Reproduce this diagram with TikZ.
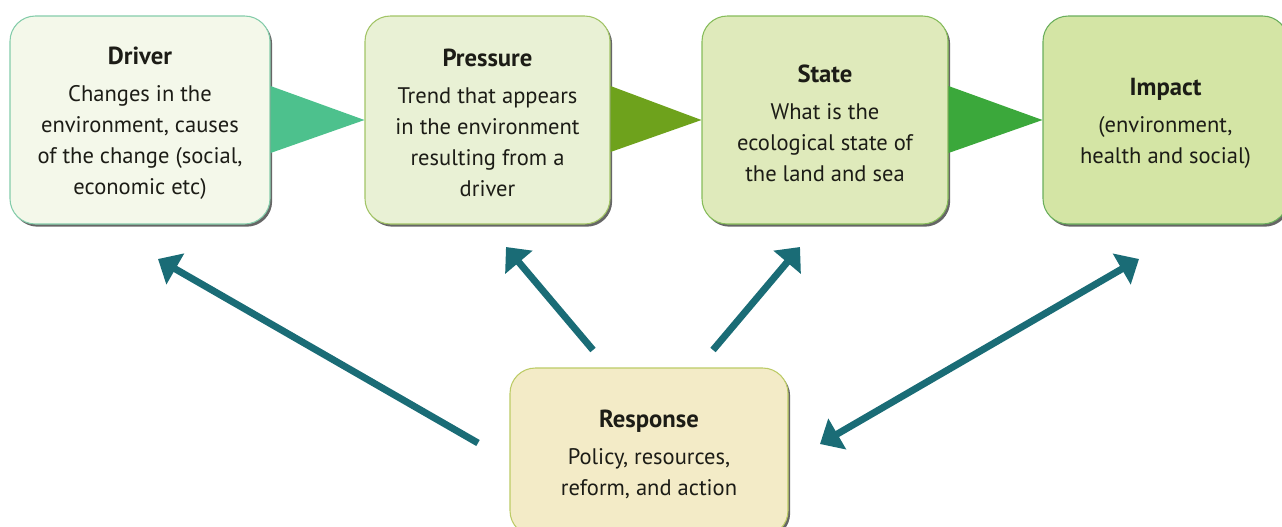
\documentclass[tikz,border=0pt]{standalone}
\usepackage{fontspec}
\setmainfont{PT Sans}
\usetikzlibrary{arrows.meta,shadows,calc}
\definecolor{drvfill}{HTML}{F4F8EA}
\definecolor{prsfill}{HTML}{E9F1D5}
\definecolor{stafill}{HTML}{DFEABB}
\definecolor{impfill}{HTML}{D4E5A5}
\definecolor{rspfill}{HTML}{F3EBC7}
\definecolor{drvline}{HTML}{84CCAA}
\definecolor{prsline}{HTML}{A2C466}
\definecolor{staline}{HTML}{86BC5A}
\definecolor{impline}{HTML}{6AAE5C}
\definecolor{rspline}{HTML}{BCCB66}
\definecolor{wedgeA}{HTML}{4DC18D}
\definecolor{wedgeB}{HTML}{6EA21C}
\definecolor{wedgeC}{HTML}{3BA83B}
\definecolor{arrteal}{HTML}{1A6C76}
\definecolor{txt}{HTML}{1C1C16}
\newcommand{\stagetitle}[1]{{\fontsize{18.5}{23.25}\selectfont\bfseries\rule{0pt}{17.5pt}#1}}
\begin{document}
\begin{tikzpicture}[line cap=round,line join=round,x=0.75pt,y=-0.75pt,
    box/.style={draw=#1,line width=0.8pt,rounded corners=19pt,align=center,text=txt,
        inner sep=0pt,font=\fontsize{16.9}{23.25}\selectfont,
        drop shadow={shadow xshift=1.6pt,shadow yshift=-2pt,fill=black!80,opacity=0.75}},
    wedge/.style={draw=none},
    reply/.style={line width=5.2pt,color=arrteal,line cap=butt,
        -{Triangle[width=26pt,length=15pt]}},
    replyboth/.style={reply,{Triangle[width=26pt,length=15pt]}-{Triangle[width=26pt,length=15pt]}}]
    \useasboundingbox (0,0) rectangle (1282,526);
    % the four stages
    \node[box=drvline,fill=drvfill,minimum width=195pt,minimum height=156pt] (driver) at (140,120)
        {\stagetitle{Driver}\\[4.5pt]Changes in the\\environment, causes\\of the change (social,\\economic etc)};
    \node[box=prsline,fill=prsfill,minimum width=183.75pt,minimum height=156pt] (pressure) at (487.5,120)
        {\stagetitle{Pressure}\\[4.5pt]Trend that appears\\in the environment\\resulting from a\\driver};
    \node[box=staline,fill=stafill,minimum width=184.5pt,minimum height=156pt] (state) at (825,120)
        {\stagetitle{State}\\[4.5pt]What is the\\ecological state of\\the land and sea};
    \node[box=impline,fill=impfill,minimum width=183.75pt,minimum height=156pt] (impact) at (1165.5,120)
        {\stagetitle{Impact}\\[4.5pt](environment,\\health and social)};
    \node[box=rspline,fill=rspfill,minimum width=208.5pt,minimum height=126pt] (response) at (649,452)
        {\stagetitle{Response}\\[4.5pt]Policy, resources,\\reform, and action};
    % wedges between the stages
    \fill[wedgeA] ($(driver.east)+(0,-34)$) -- (pressure.west) -- ($(driver.east)+(0,33)$) -- cycle;
    \fill[wedgeB] ($(pressure.east)+(0,-34)$) -- (state.west) -- ($(pressure.east)+(0,32)$) -- cycle;
    \fill[wedgeC] ($(state.east)+(0,-34)$) -- (impact.west) -- ($(state.east)+(0,33)$) -- cycle;
    % response arrows
    \coordinate (drvtail) at (478,443);
    \coordinate (drvhead) at (158,259);
    \coordinate (prstail) at (593,350);
    \coordinate (prshead) at (506,247);
    \coordinate (statail) at (713,350);
    \coordinate (stahead) at (800,247);
    \coordinate (imptail) at (820,444);
    \coordinate (imphead) at (1139,259);
    \draw[reply] (drvtail) -- (drvhead);
    \draw[reply] (prstail) -- (prshead);
    \draw[reply] (statail) -- (stahead);
    \draw[replyboth] (imptail) -- (imphead);
\end{tikzpicture}
\end{document}
